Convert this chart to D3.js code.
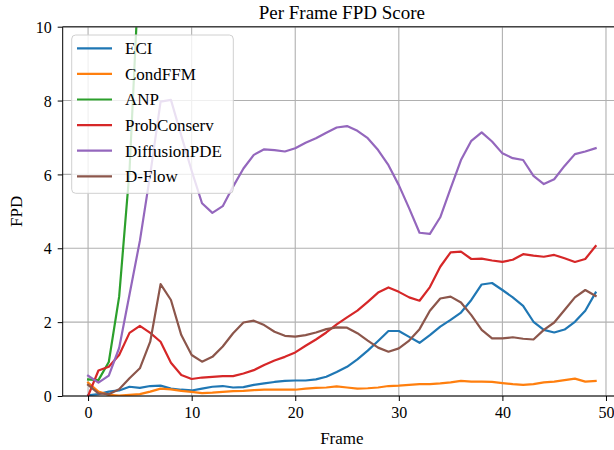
<!DOCTYPE html>
<html><head><meta charset="utf-8">
<script src="https://cdn.jsdelivr.net/npm/d3@7"></script>
<style>body{margin:0;background:#fff}svg{display:block}</style>
</head><body><svg id="c" width="614" height="450"></svg>
<script>
const xTicks = [0,10,20,30,40,50];
const yTicks = [0,2,4,6,8,10];
const seriesNames = ["ECI","CondFFM","ANP","ProbConserv","DiffusionPDE","D-Flow"];
const colors = ["#1f77b4","#ff7f0e","#2ca02c","#d62728","#9467bd","#8c564b"];
const eci = [0.02,0.05,0.12,0.15,0.25,0.22,0.27,0.28,0.2,0.17,
  0.15,0.2,0.25,0.27,0.23,0.24,0.3,0.34,0.38,0.41,
  0.42,0.42,0.45,0.52,0.65,0.79,0.99,1.23,1.49,1.76,
  1.76,1.6,1.44,1.65,1.88,2.06,2.26,2.6,3.02,3.06,
  2.87,2.67,2.44,2.01,1.79,1.72,1.8,2.01,2.31,2.8];
const condffm = [0.36,0.12,0.03,0.01,0.03,0.05,0.12,0.2,0.18,0.14,
  0.11,0.08,0.09,0.11,0.13,0.14,0.16,0.17,0.17,0.17,
  0.17,0.2,0.22,0.23,0.26,0.23,0.2,0.21,0.23,0.27,
  0.28,0.3,0.32,0.32,0.34,0.37,0.41,0.39,0.39,0.38,
  0.35,0.32,0.3,0.32,0.37,0.39,0.43,0.47,0.39,0.41];
const anp = [0.45,0.43,0.92,2.69,6.1,12.0];
const probconserv = [0,0.69,0.79,1.11,1.71,1.9,1.71,1.47,0.9,0.57,
  0.46,0.5,0.52,0.54,0.54,0.61,0.7,0.84,0.96,1.06,
  1.18,1.36,1.53,1.72,1.94,2.13,2.31,2.55,2.8,2.94,
  2.82,2.67,2.58,2.95,3.5,3.89,3.91,3.71,3.72,3.67,
  3.63,3.69,3.84,3.8,3.77,3.82,3.73,3.63,3.71,4.06];
const diffusionpde = [0.55,0.36,0.55,1.3,2.75,4.2,6.0,7.97,8.02,7.05,
  6.1,5.22,4.96,5.14,5.67,6.16,6.53,6.68,6.66,6.62,
  6.71,6.86,6.98,7.13,7.27,7.31,7.18,6.98,6.66,6.25,
  5.71,5.08,4.42,4.39,4.84,5.62,6.39,6.91,7.14,6.89,
  6.57,6.44,6.39,5.96,5.74,5.87,6.23,6.55,6.62,6.71];
const dflow = [0.3,0.07,0.05,0.18,0.48,0.75,1.47,3.03,2.6,1.65,
  1.11,0.93,1.06,1.34,1.7,1.99,2.04,1.92,1.74,1.63,
  1.61,1.65,1.72,1.81,1.86,1.85,1.7,1.5,1.31,1.2,
  1.29,1.5,1.81,2.31,2.64,2.69,2.53,2.19,1.79,1.56,
  1.56,1.59,1.55,1.53,1.79,1.99,2.33,2.67,2.87,2.71];
const allSeries = [eci,condffm,anp,probconserv,diffusionpde,dflow];

const FONT = "'Liberation Serif', 'Times New Roman', serif";
const svg = d3.select("#c");
const L = 62.7, R = 621, T = 26.7, B = 396;
const x = d3.scaleLinear().domain([-2.45, 51.45]).range([L, R]);
const y = d3.scaleLinear().domain([0, 10]).range([B, T]);

svg.append("defs").append("clipPath").attr("id","clip")
  .append("rect").attr("x",L).attr("y",T).attr("width",R-L).attr("height",B-T);

// grid
const grid = svg.append("g").attr("stroke","#b0b0b0").attr("stroke-width",1.1);
xTicks.forEach(t => grid.append("line").attr("x1",x(t)).attr("x2",x(t)).attr("y1",T).attr("y2",B));
yTicks.forEach(t => grid.append("line").attr("x1",L).attr("x2",R).attr("y1",y(t)).attr("y2",y(t)));

// lines
const line = d3.line().x((d,i)=>x(i)).y(d=>y(d));
const lg = svg.append("g").attr("clip-path","url(#clip)");
allSeries.forEach((s,k) => {
  lg.append("path").attr("d", line(s)).attr("fill","none")
    .attr("stroke", colors[k]).attr("stroke-width", 2.2)
    .attr("stroke-linejoin","round").attr("stroke-linecap","square");
});

// axes
const xAxis = d3.axisBottom(x).tickValues(xTicks).tickSize(5).tickPadding(6).tickFormat(d3.format("d"));
const yAxis = d3.axisLeft(y).tickValues(yTicks).tickSize(5).tickPadding(6).tickFormat(d3.format("d"));
const gx = svg.append("g").attr("transform",`translate(0,${B})`).call(xAxis);
const gy = svg.append("g").attr("transform",`translate(${L},0)`).call(yAxis);
[gx,gy].forEach(g => {
  g.attr("font-family", null).attr("font-size", null);
  g.select(".domain").remove();
  g.selectAll(".tick line").attr("stroke","#000").attr("stroke-width",1);
  g.selectAll(".tick text").style("font-family",FONT).style("font-size","16px").attr("fill","#000");
});
gy.selectAll(".tick text").attr("dy","0.35em");
svg.append("line").attr("x1",L).attr("x2",L).attr("y1",T).attr("y2",B).attr("stroke","#000").attr("stroke-width",1);
svg.append("line").attr("x1",L).attr("x2",R).attr("y1",B).attr("y2",B).attr("stroke","#000").attr("stroke-width",1);
svg.append("line").attr("x1",L).attr("x2",R).attr("y1",T).attr("y2",T).attr("stroke","#444").attr("stroke-width",1.6);

// labels
function txt(sel){ return sel.style("font-family",FONT).attr("fill","#000"); }
txt(svg.append("text")).attr("x",(L+R)/2).attr("y",19).attr("text-anchor","middle").style("font-size","19px").text("Per Frame FPD Score");
txt(svg.append("text")).attr("x",(L+R)/2).attr("y",444).attr("text-anchor","middle").style("font-size","17px").text("Frame");
txt(svg.append("text")).attr("transform",`translate(22,${(T+B)/2}) rotate(-90)`).attr("text-anchor","middle").style("font-size","17px").text("FPD");

// legend
const leg = svg.append("g");
leg.append("rect").attr("x",71.7).attr("y",35).attr("width",161.6).attr("height",158.3)
  .attr("rx",4).attr("fill","#fff").attr("fill-opacity",0.8).attr("stroke","#d0d0d0").attr("stroke-width",1);
seriesNames.forEach((n,k) => {
  const cy = 48.3 + k*25.6;
  leg.append("line").attr("x1",77).attr("x2",112).attr("y1",cy).attr("y2",cy).attr("stroke",colors[k]).attr("stroke-width",2.2);
  txt(leg.append("text")).attr("x",125).attr("y",cy).attr("dy","0.35em").style("font-size","17px").text(n);
});
</script></body></html>
